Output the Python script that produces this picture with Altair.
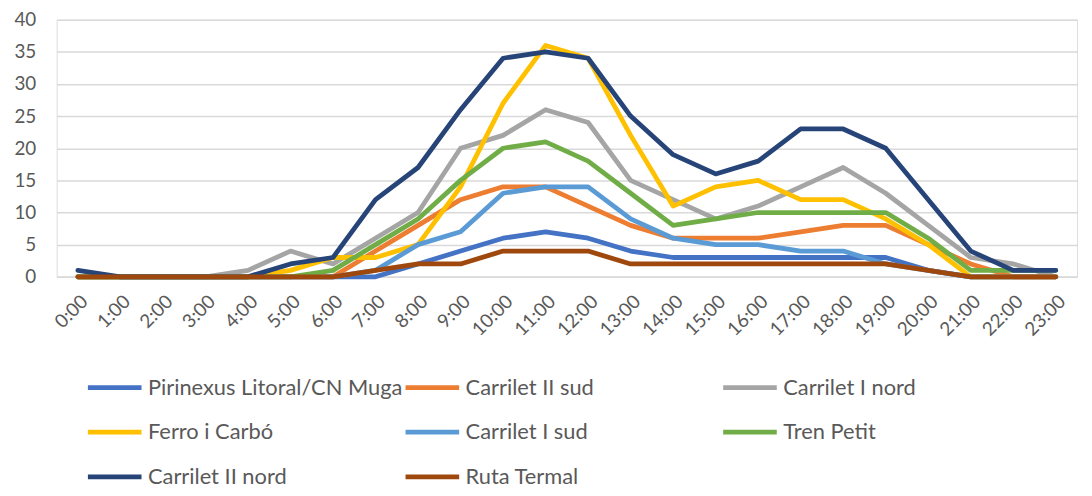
import altair as alt
import pandas as pd

hours = [f"{h}:00" for h in range(24)]
series = [
    "Pirinexus Litoral/CN Muga", "Carrilet II sud", "Carrilet I nord",
    "Ferro i Carbó", "Carrilet I sud", "Tren Petit", "Carrilet II nord", "Ruta Termal",
]
colors = ["#4472C4", "#ED7D31", "#A5A5A5", "#FFC000", "#5B9BD5", "#70AD47", "#264478", "#9E480E"]

pirinexus = [0, 0, 0, 0, 0, 0, 0, 0, 2, 4, 6, 7, 6, 4, 3, 3, 3, 3, 3, 3, 1, 0, 0, 0]
carrilet2_sud = [0, 0, 0, 0, 0, 0, 0, 4, 8, 12, 14, 14, 11, 8, 6, 6, 6, 7, 8, 8, 5, 2, 0, 0]
carrilet1_nord = [0, 0, 0, 0, 1, 4, 2, 6, 10, 20, 22, 26, 24, 15, 12, 9, 11, 14, 17, 13, 8, 3, 2, 0]
ferro_carbo = [0, 0, 0, 0, 0, 1, 3, 3, 5, 14, 27, 36, 34, 22, 11, 14, 15, 12, 12, 9, 5, 0, 0, 0]
carrilet1_sud = [0, 0, 0, 0, 0, 0, 0, 1, 5, 7, 13, 14, 14, 9, 6, 5, 5, 4, 4, 2, 1, 0, 0, 0]
tren_petit = [0, 0, 0, 0, 0, 0, 1, 5, 9, 15, 20, 21, 18, 13, 8, 9, 10, 10, 10, 10, 6, 1, 1, 1]
carrilet2_nord = [1, 0, 0, 0, 0, 2, 3, 12, 17, 26, 34, 35, 34, 25, 19, 16, 18, 23, 23, 20, 12, 4, 1, 1]
ruta_termal = [0, 0, 0, 0, 0, 0, 0, 1, 2, 2, 4, 4, 4, 2, 2, 2, 2, 2, 2, 2, 1, 0, 0, 0]

values = [pirinexus, carrilet2_sud, carrilet1_nord, ferro_carbo,
          carrilet1_sud, tren_petit, carrilet2_nord, ruta_termal]

rows = []
for si, (name, vals) in enumerate(zip(series, values)):
    for h, v in zip(hours, vals):
        rows.append({"hora": h, "serie": name, "valor": v, "ord": si})
df = pd.DataFrame(rows)

FONT = "Lato"
chart = alt.Chart(df).mark_line(
    strokeWidth=4.8, strokeCap="round", strokeJoin="round"
).encode(
    x=alt.X("hora:O", sort=hours, scale=alt.Scale(type="point", padding=0.5),
            axis=alt.Axis(title=None, labelAngle=-45, labelFontSize=19, labelColor="#595959",
                          labelFont=FONT, domain=True, domainColor="#d9d9d9", domainWidth=1.5,
                          ticks=False, labelPadding=15, grid=False)),
    y=alt.Y("valor:Q", scale=alt.Scale(domain=[0, 40], nice=False),
            axis=alt.Axis(title=None, values=list(range(0, 45, 5)), labelFontSize=19,
                          labelColor="#595959", labelFont=FONT, domain=False, ticks=False,
                          labelPadding=21, gridColor="#d9d9d9", gridWidth=1.5)),
    color=alt.Color("serie:N", sort=series, scale=alt.Scale(domain=series, range=colors),
                    legend=alt.Legend(title=None, orient="none", legendX=29, legendY=341,
                                      direction="horizontal",
                                      columns=3, symbolType="stroke", symbolStrokeWidth=4.8,
                                      symbolSize=2916, labelFontSize=22, labelFont=FONT,
                                      labelColor="#595959", rowPadding=4, columnPadding=-9,
                                      gridAlign="all", labelLimit=400, labelOffset=4)),
    order=alt.Order("ord:Q"),
).properties(
    width=1028, height=259,
    autosize=alt.AutoSizeParams(type="none"),
    padding={"left": 49, "top": 10, "right": 7, "bottom": 211},
).configure_view(stroke=None).configure(background="white")

chart.save("out.html", embed_options={"renderer": "svg", "actions": False})
